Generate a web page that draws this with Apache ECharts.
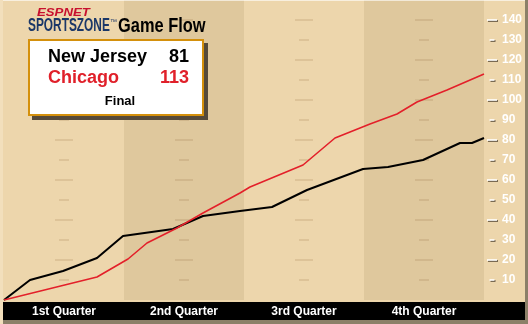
<!DOCTYPE html>
<html>
<head>
<meta charset="utf-8">
<script src="https://cdn.jsdelivr.net/npm/echarts@6/dist/echarts.min.js"></script>
<style>
  html, body { margin: 0; padding: 0; background: #EDD6AC; }
  #main { width: 528px; height: 324px; }
</style>
</head>
<body>
<div id="main"></div>
<script>
// game minute vs running score
var njMinutes = [0, 2.6, 5.9, 9.3, 11.9, 16.9, 19.9, 23.6, 26.8, 30.3, 35.9, 38.4, 41.9, 45.6, 46.8, 48];
var njScores = [0, 10, 14.5, 21, 32, 35.5, 42, 44.5, 46.5, 55, 65.5, 66.5, 70, 78.5, 78.5, 81];
var chiMinutes = [0, 9.3, 12.4, 14.3, 17.3, 19.9, 23.6, 24.6, 29.9, 33.1, 36.6, 39.3, 41.3, 44.3, 48];
var chiScores = [0, 11.5, 20.5, 28.5, 36, 43.5, 53.5, 56.5, 67.5, 81, 88, 93, 99, 105, 113];

var quarters = ['1st Quarter', '2nd Quarter', '3rd Quarter', '4th Quarter'];
var quarterMids = [6, 18, 30, 42];
var tickValues = [10, 20, 30, 40, 50, 60, 70, 80, 90, 100, 110, 120, 130, 140];

var teams = ['New Jersey', 'Chicago'];
var finals = [81, 113];

var LIGHT = '#EDD6AC', DARK = '#DFC89D';
var SANS = '"Liberation Sans", Arial, sans-serif';

function pairs(xs, ys) {
	var out = [];
	for (var i = 0; i < xs.length; i++) out.push([xs[i], ys[i]]);
	return out;
}

// faint marks in the middle of every quarter
var guideMarks = [];
quarterMids.forEach(function(m) {
	tickValues.forEach(function(v) { guideMarks.push([m, v]); });
});
// white dashes next to the score labels
var sideMarks = tickValues.map(function(v) { return [5, v]; });

var labelText = {
	color: '#fff', fontFamily: SANS, fontWeight: 'bold', fontSize: 12,
	textShadowColor: '#5b4f3c', textShadowOffsetX: 1, textShadowOffsetY: 1, textShadowBlur: 0
};

var option = {
	backgroundColor: LIGHT,
	animation: false,
	grid: [
		{ left: 4, top: 0, width: 480, height: 300 },
		{ left: 487, top: 0, width: 10, height: 300 }
	],
	xAxis: [
		{ type: 'value', gridIndex: 0, min: 0, max: 48, interval: 12,
		  axisLine: { show: false }, axisTick: { show: false }, axisLabel: { show: false },
		  splitLine: { show: false },
		  splitArea: { show: true, areaStyle: { color: [LIGHT, DARK] } } },
		{ type: 'category', gridIndex: 0, position: 'bottom', data: quarters, boundaryGap: true, z: 10,
		  axisLine: { show: false }, axisTick: { show: false },
		  axisLabel: Object.assign({ margin: 6 }, labelText) },
		{ type: 'value', gridIndex: 1, show: false, min: 0, max: 10 }
	],
	yAxis: [
		{ type: 'value', gridIndex: 0, min: 0, max: 150, show: false },
		{ type: 'value', gridIndex: 1, min: 0, max: 150, interval: 10, position: 'right', z: 10,
		  axisLine: { show: false }, splitLine: { show: false }, axisTick: { show: false },
		  axisLabel: Object.assign({ margin: 5, align: 'left',
		    formatter: function(v) { return (v > 0 && v < 150) ? String(v) : ''; } }, labelText) }
	],
	series: [
		{ type: 'scatter', xAxisIndex: 0, yAxisIndex: 0, data: guideMarks, silent: true, z: 1,
		  symbol: 'rect',
		  symbolSize: function(v) { return v[1] % 20 === 0 ? [18, 2] : [10, 2]; },
		  itemStyle: { color: 'rgba(150,110,60,0.22)' } },
		{ type: 'scatter', xAxisIndex: 2, yAxisIndex: 1, data: sideMarks, silent: true, z: 10,
		  symbol: 'rect',
		  symbolSize: function(v) { return v[1] % 20 === 0 ? [10, 2] : [5, 2]; },
		  symbolOffset: [0, 0],
		  itemStyle: { color: '#fff', shadowColor: '#5b4f3c', shadowOffsetX: 1, shadowOffsetY: 1, shadowBlur: 0 } },
		{ type: 'line', name: teams[0], xAxisIndex: 0, yAxisIndex: 0, data: pairs(njMinutes, njScores),
		  showSymbol: false, z: 3, lineStyle: { color: '#000', width: 2 } },
		{ type: 'line', name: teams[1], xAxisIndex: 0, yAxisIndex: 0, data: pairs(chiMinutes, chiScores),
		  showSymbol: false, z: 4, lineStyle: { color: '#e3202a', width: 1.6 } }
	],
	graphic: [
		{ type: 'rect', z: 5, shape: { x: 0, y: 0, width: 528, height: 1 }, style: { fill: 'rgba(255,255,255,0.6)' } },
		{ type: 'rect', z: 5, shape: { x: 0, y: 0, width: 3, height: 324 }, style: { fill: '#F2DFBC' } },
		{ type: 'rect', z: 5, shape: { x: 3, y: 320, width: 525, height: 4 }, style: { fill: '#8c8068' } },
		{ type: 'rect', z: 5, shape: { x: 525, y: 0, width: 3, height: 324 }, style: { fill: '#8c8068' } },
		{ type: 'rect', z: 6, shape: { x: 3, y: 302, width: 522, height: 18 }, style: { fill: '#000' } },
		// title
		{ type: 'text', z: 20, x: 37, y: 13, scaleX: 1.2,
		  style: { text: 'ESPNET', fill: '#c8102e', font: 'italic bold 11px ' + SANS, verticalAlign: 'middle' } },
		{ type: 'text', z: 20, x: 28, y: 26, scaleX: 0.66,
		  style: { text: 'SPORTSZONE', fill: '#1b3768', font: 'bold 18px ' + SANS, verticalAlign: 'middle' } },
		{ type: 'text', z: 20, x: 110, y: 19,
		  style: { text: '™', fill: '#1b3768', font: '7px ' + SANS } },
		{ type: 'text', z: 20, x: 118, y: 26, scaleX: 0.82,
		  style: { text: 'Game Flow', fill: '#000', font: 'bold 20px ' + SANS, verticalAlign: 'middle' } },
		// score box
		{ type: 'rect', z: 20, shape: { x: 32, y: 43, width: 176, height: 77 }, style: { fill: '#554a3a' } },
		{ type: 'rect', z: 21, shape: { x: 29, y: 40, width: 174, height: 75 },
		  style: { fill: '#fff', stroke: '#d4900c', lineWidth: 2 } },
		{ type: 'text', z: 22, x: 48, y: 57,
		  style: { text: teams[0], fill: '#000', font: 'bold 18px ' + SANS, verticalAlign: 'middle' } },
		{ type: 'text', z: 22, x: 189, y: 57,
		  style: { text: String(finals[0]), fill: '#000', font: 'bold 18px ' + SANS, align: 'right', verticalAlign: 'middle' } },
		{ type: 'text', z: 22, x: 48, y: 78,
		  style: { text: teams[1], fill: '#e0202a', font: 'bold 18px ' + SANS, verticalAlign: 'middle' } },
		{ type: 'text', z: 22, x: 189, y: 78,
		  style: { text: String(finals[1]), fill: '#e0202a', font: 'bold 18px ' + SANS, align: 'right', verticalAlign: 'middle' } },
		{ type: 'text', z: 22, x: 120, y: 101,
		  style: { text: 'Final', fill: '#000', font: 'bold 13px ' + SANS, align: 'center', verticalAlign: 'middle' } }
	]
};

var myChart = echarts.init(document.getElementById('main'));
myChart.setOption(option);
</script>
</body>
</html>
